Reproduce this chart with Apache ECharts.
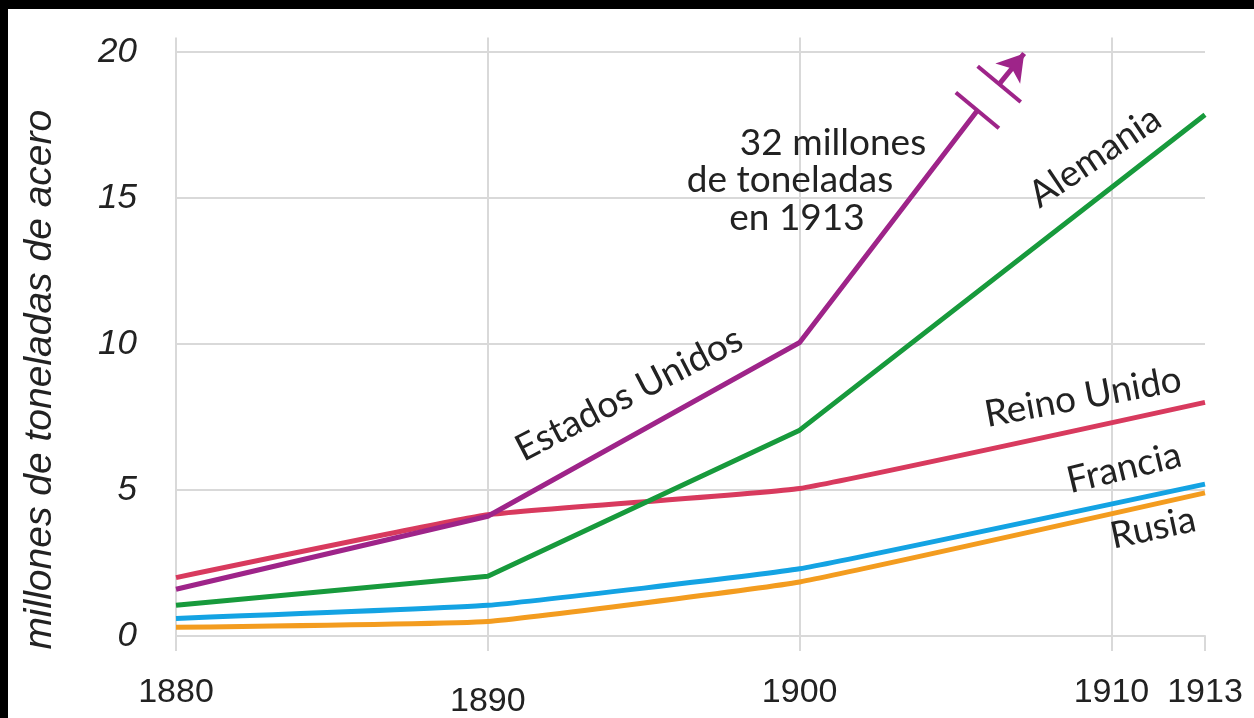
<!DOCTYPE html>
<html>
<head>
<meta charset="utf-8">
<script src="https://cdn.jsdelivr.net/npm/echarts@6/dist/echarts.min.js"></script>
<style>
  html, body { margin: 0; padding: 0; background: #fff; }
  #chart { width: 1254px; height: 718px; }
</style>
</head>
<body>
<div id="chart"></div>
<script>
// millions of tonnes of steel
var years = [1880, 1890, 1900, 1913];
var rusia = [0.3, 0.5, 1.85, 4.9];
var francia = [0.6, 1.05, 2.3, 5.2];
var reinoUnido = [2.0, 4.15, 5.05, 8.0];
var alemania = [1.05, 2.05, 7.05, 17.85];
// Estados Unidos runs off the chart (32 in 1913): drawn up to the break, then an arrow
var eeuuYears = [1880, 1890, 1900, 1905.7];
var eeuu = [1.6, 4.1, 10.05, 18.0];
var eeuuArrowFrom = [1906.4, 18.9];
var eeuuArrowTo = [1907.2, 19.95];

var axisFont = "'Liberation Sans', sans-serif";
var textFont = "Lato, 'Noto Sans', sans-serif";
var grey = '#d9d9d9';
var ink = '#222';

function pairs(xs, ys) {
  return xs.map(function (x, i) { return [x, ys[i]]; });
}

function lineSeries(name, data, color, smooth) {
  return {
    name: name,
    type: 'line',
    data: data,
    symbol: 'none',
    smooth: smooth,
    lineStyle: { color: color, width: 5 },
    z: 3
  };
}

var chart = echarts.init(document.getElementById('chart'));

var option = {
  animation: false,
  backgroundColor: '#fff',
  grid: { left: 176, right: 49, top: 37.4, bottom: 82, outerBoundsMode: 'none' },
  xAxis: {
    type: 'value',
    min: 1880,
    max: 1913,
    interval: 10,
    axisLine: { lineStyle: { color: grey, width: 2 } },
    axisTick: { length: 15, lineStyle: { color: grey, width: 2 } },
    splitLine: { show: true, showMaxLine: false, lineStyle: { color: grey, width: 2 } },
    axisLabel: {
      margin: 40,
      showMaxLabel: true,
      fontFamily: axisFont,
      fontSize: 34,
      color: ink,
      formatter: function (v) { return v === 1890 ? '{low|1890}' : String(v); },
      rich: { low: { padding: [9, 0, 0, 0], fontFamily: axisFont, fontSize: 34, color: ink } }
    }
  },
  yAxis: {
    type: 'value',
    min: 0,
    max: 20.5,
    interval: 5,
    axisLine: { show: false },
    axisTick: { show: false },
    splitLine: { showMaxLine: false, lineStyle: { color: grey, width: 2 } },
    axisLabel: {
      showMaxLabel: false,
      margin: 39,
      fontFamily: axisFont,
      fontStyle: 'italic',
      fontSize: 35,
      color: ink
    },
    name: 'millones de toneladas de acero',
    nameLocation: 'middle',
    nameRotate: 90,
    nameGap: 116,
    nameMoveOverlap: false,
    nameTextStyle: {
      fontFamily: axisFont,
      fontStyle: 'italic',
      fontSize: 39,
      color: ink,
      padding: [0, 86, 0, 0]
    }
  },
  series: [
    lineSeries('Rusia', pairs(years, rusia), '#f39c1f', 0.1),
    lineSeries('Francia', pairs(years, francia), '#14a3e3', 0.1),
    lineSeries('Reino Unido', pairs(years, reinoUnido), '#d83a5e', 0.1),
    lineSeries('Alemania', pairs(years, alemania), '#179a3c', false),
    lineSeries('Estados Unidos', pairs(eeuuYears, eeuu), '#9e2489', false),
    {
      name: 'Estados Unidos (1913)',
      type: 'line',
      data: [],
      markLine: {
        silent: true,
        animation: false,
        symbol: ['none', 'arrow'],
        symbolSize: [24, 26],
        label: { show: false },
        lineStyle: { color: '#9e2489', width: 5, type: 'solid' },
        data: [[{ coord: eeuuArrowFrom }, { coord: eeuuArrowTo }]]
      }
    }
  ]
};

chart.setOption(option);

// break marks across the US line, perpendicular to it
var pA = chart.convertToPixel({ gridIndex: 0 }, [eeuuYears[eeuuYears.length - 1], eeuu[eeuu.length - 1]]);
var pB = chart.convertToPixel({ gridIndex: 0 }, eeuuArrowFrom);
var dx = pB[0] - pA[0], dy = pB[1] - pA[1];
var len = Math.sqrt(dx * dx + dy * dy);
var nx = -dy / len * 28, ny = dx / len * 28;

function breakMark(p) {
  return {
    type: 'line',
    z: 10,
    shape: { x1: p[0] - nx, y1: p[1] - ny, x2: p[0] + nx, y2: p[1] + ny },
    style: { stroke: '#9e2489', lineWidth: 4 }
  };
}

function label(text, x, y, angle) {
  return {
    type: 'text',
    z: 10,
    x: x,
    y: y,
    rotation: angle * Math.PI / 180,
    style: {
      text: text,
      fill: ink,
      font: '37px ' + textFont,
      align: 'center',
      verticalAlign: 'middle'
    }
  };
}

chart.setOption({
  graphic: {
    elements: [
      { type: 'rect', z: 20, shape: { x: 0, y: 0, width: 1254, height: 9 }, style: { fill: '#000' } },
      { type: 'rect', z: 20, shape: { x: 0, y: 0, width: 8, height: 718 }, style: { fill: '#000' } },
      breakMark(pA),
      breakMark(pB),
      label('32 millones', 833, 143, 0),
      label('de toneladas', 790, 180, 0),
      label('en 1913', 797, 218, 0),
      label('Estados Unidos', 629, 394, 27.3),
      label('Alemania', 1095, 157, 34),
      label('Reino Unido', 1083, 397, 10.5),
      label('Francia', 1124, 468, 13.5),
      label('Rusia', 1153, 528, 12)
    ]
  }
});
</script>
</body>
</html>
